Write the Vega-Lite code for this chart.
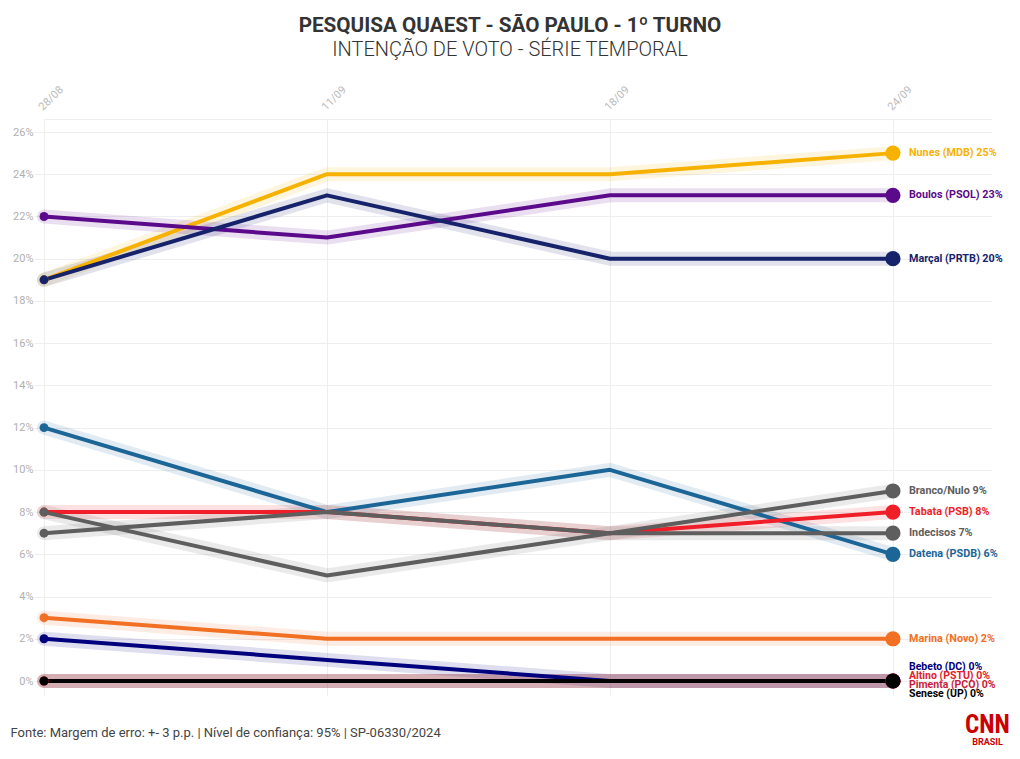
{
  "$schema": "https://vega.github.io/schema/vega-lite/v6.json",
  "autosize": {"type": "none"},
  "width": 948,
  "height": 576,
  "padding": {"left": 44, "top": 119, "right": 28, "bottom": 64},
  "background": "white",
  "title": {
    "text": "PESQUISA QUAEST - SÃO PAULO - 1º TURNO",
    "subtitle": "INTENÇÃO DE VOTO - SÉRIE TEMPORAL",
    "anchor": "middle",
    "frame": "group",
    "dx": -8,
    "offset": 23,
    "font": "Roboto",
    "fontSize": 20.7,
    "fontWeight": "bold",
    "color": "#333333",
    "subtitleFont": "Roboto",
    "subtitleFontSize": 20,
    "subtitleFontWeight": 300,
    "subtitleColor": "#333333",
    "subtitlePadding": 3
  },
  "config": {
    "view": {"stroke": null},
    "font": "Roboto"
  },
  "data": {
    "values": [
      {"date": "28/08", "name": "Nunes (MDB)", "value": 19},
      {"date": "11/09", "name": "Nunes (MDB)", "value": 24},
      {"date": "18/09", "name": "Nunes (MDB)", "value": 24},
      {"date": "24/09", "name": "Nunes (MDB)", "value": 25},
      {"date": "28/08", "name": "Boulos (PSOL)", "value": 22},
      {"date": "11/09", "name": "Boulos (PSOL)", "value": 21},
      {"date": "18/09", "name": "Boulos (PSOL)", "value": 23},
      {"date": "24/09", "name": "Boulos (PSOL)", "value": 23},
      {"date": "28/08", "name": "Marçal (PRTB)", "value": 19},
      {"date": "11/09", "name": "Marçal (PRTB)", "value": 23},
      {"date": "18/09", "name": "Marçal (PRTB)", "value": 20},
      {"date": "24/09", "name": "Marçal (PRTB)", "value": 20},
      {"date": "28/08", "name": "Datena (PSDB)", "value": 12},
      {"date": "11/09", "name": "Datena (PSDB)", "value": 8},
      {"date": "18/09", "name": "Datena (PSDB)", "value": 10},
      {"date": "24/09", "name": "Datena (PSDB)", "value": 6},
      {"date": "28/08", "name": "Tabata (PSB)", "value": 8},
      {"date": "11/09", "name": "Tabata (PSB)", "value": 8},
      {"date": "18/09", "name": "Tabata (PSB)", "value": 7},
      {"date": "24/09", "name": "Tabata (PSB)", "value": 8},
      {"date": "28/08", "name": "Branco/Nulo", "value": 7},
      {"date": "11/09", "name": "Branco/Nulo", "value": 8},
      {"date": "18/09", "name": "Branco/Nulo", "value": 7},
      {"date": "24/09", "name": "Branco/Nulo", "value": 9},
      {"date": "28/08", "name": "Indecisos", "value": 8},
      {"date": "11/09", "name": "Indecisos", "value": 5},
      {"date": "18/09", "name": "Indecisos", "value": 7},
      {"date": "24/09", "name": "Indecisos", "value": 7},
      {"date": "28/08", "name": "Marina (Novo)", "value": 3},
      {"date": "11/09", "name": "Marina (Novo)", "value": 2},
      {"date": "18/09", "name": "Marina (Novo)", "value": 2},
      {"date": "24/09", "name": "Marina (Novo)", "value": 2},
      {"date": "28/08", "name": "Bebeto (DC)", "value": 2},
      {"date": "11/09", "name": "Bebeto (DC)", "value": 1},
      {"date": "18/09", "name": "Bebeto (DC)", "value": 0},
      {"date": "24/09", "name": "Bebeto (DC)", "value": 0},
      {"date": "28/08", "name": "Altino (PSTU)", "value": 0},
      {"date": "11/09", "name": "Altino (PSTU)", "value": 0},
      {"date": "18/09", "name": "Altino (PSTU)", "value": 0},
      {"date": "24/09", "name": "Altino (PSTU)", "value": 0},
      {"date": "28/08", "name": "Pimenta (PCO)", "value": 0},
      {"date": "11/09", "name": "Pimenta (PCO)", "value": 0},
      {"date": "18/09", "name": "Pimenta (PCO)", "value": 0},
      {"date": "24/09", "name": "Pimenta (PCO)", "value": 0},
      {"date": "28/08", "name": "Senese (UP)", "value": 0},
      {"date": "11/09", "name": "Senese (UP)", "value": 0},
      {"date": "18/09", "name": "Senese (UP)", "value": 0},
      {"date": "24/09", "name": "Senese (UP)", "value": 0}
    ]
  },
  "transform": [
    {"calculate": "datum.name + ' ' + datum.value + '%'", "as": "label"}
  ],
  "encoding": {
    "x": {
      "field": "date",
      "type": "ordinal",
      "sort": ["28/08", "11/09", "18/09", "24/09"],
      "scale": {"type": "point", "padding": 0.175, "align": 0}
    },
    "y": {
      "field": "value",
      "type": "quantitative",
      "scale": {"domain": [-0.663, 26.616], "nice": false, "zero": false}
    },
    "color": {
      "field": "name",
      "type": "nominal",
      "legend": null,
      "scale": {
        "domain": ["Nunes (MDB)", "Boulos (PSOL)", "Marçal (PRTB)", "Datena (PSDB)", "Tabata (PSB)", "Branco/Nulo", "Indecisos", "Marina (Novo)", "Bebeto (DC)", "Altino (PSTU)", "Pimenta (PCO)", "Senese (UP)"],
        "range": ["#F7B200", "#5A0A8A", "#16226A", "#1C6697", "#F01E28", "#5E5E5E", "#5E5E5E", "#F17024", "#00007E", "#E3202C", "#C71E3C", "#000000"]
      }
    }
  },
  "resolve": {"axis": {"y": "independent"}},
  "layer": [
    {
      "mark": {"type": "line", "strokeWidth": 14, "opacity": 0.13, "strokeCap": "round", "strokeJoin": "round"},
      "encoding": {
        "x": {
          "field": "date", "type": "ordinal", "sort": ["28/08", "11/09", "18/09", "24/09"],
          "axis": {
            "orient": "top",
            "labelAngle": -45,
            "labelColor": "#bbbbbb",
            "labelFontSize": 11,
            "labelPadding": 7,
            "ticks": false,
            "domain": true,
            "domainColor": "#eeeeee",
            "grid": true,
            "gridColor": "#eeeeee",
            "title": "CNN",
            "titleFont": "Roboto Condensed, Roboto",
            "titleFontSize": 25,
            "titleFontWeight": "bold",
            "titleColor": "#CC0000",
            "titleX": 943,
            "titleY": 605,
            "titleAlign": "center",
            "titleBaseline": "middle",
            "titleAngle": 0
          }
        },
        "y": {
          "field": "value", "type": "quantitative",
          "axis": {
            "orient": "left",
            "values": [0, 2, 4, 6, 8, 10, 12, 14, 16, 18, 20, 22, 24, 26],
            "labelExpr": "datum.value + '%'",
            "labelColor": "#b0b0b0",
            "labelFontSize": 11,
            "labelPadding": 1,
            "tickSize": 10,
            "tickColor": "#eeeeee",
            "domain": false,
            "grid": true,
            "gridColor": "#eeeeee",
            "title": "Fonte: Margem de erro: +- 3 p.p. | Nível de confiança: 95% | SP-06330/2024",
            "titleFont": "Liberation Sans Narrow, Roboto",
            "titleFontSize": 13,
            "titleFontWeight": "normal",
            "titleColor": "#444444",
            "titleAngle": 0,
            "titleX": -34,
            "titleY": 613,
            "titleAlign": "left",
            "titleBaseline": "middle"
          }
        }
      }
    },
    {
      "mark": {"type": "line", "strokeWidth": 4, "strokeCap": "round", "strokeJoin": "round"},
      "encoding": {
        "y": {
          "field": "value", "type": "quantitative",
          "axis": {
            "orient": "right",
            "labels": false,
            "ticks": false,
            "domain": false,
            "grid": false,
            "title": "BRASIL",
            "titleFont": "Roboto",
            "titleFontSize": 9,
            "titleFontWeight": "bold",
            "titleColor": "#CC0000",
            "titleAngle": 0,
            "titleX": -5,
            "titleY": 622,
            "titleAlign": "center",
            "titleBaseline": "middle"
          }
        }
      }
    },
    {
      "transform": [{"filter": "datum.date == '28/08'"}],
      "mark": {"type": "circle", "size": 80, "opacity": 1},
      "encoding": {"y": {"field": "value", "type": "quantitative", "axis": null}}
    },
    {
      "transform": [{"filter": "datum.date == '24/09'"}],
      "mark": {"type": "circle", "size": 230, "opacity": 1},
      "encoding": {"y": {"field": "value", "type": "quantitative", "axis": null}}
    },
    {
      "transform": [{"filter": "datum.date == '24/09' && datum.value > 0"}],
      "mark": {"type": "text", "align": "left", "baseline": "middle", "dx": 16, "font": "Roboto", "fontSize": 10.8, "fontWeight": "bold"},
      "encoding": {
        "y": {"field": "value", "type": "quantitative", "axis": null},
        "text": {"field": "label"}
      }
    },
    {
      "transform": [{"filter": "datum.date == '24/09' && datum.name == 'Bebeto (DC)'"}],
      "mark": {"type": "text", "align": "left", "baseline": "middle", "dx": 16, "dy": -14, "font": "Roboto", "fontSize": 10.5, "fontWeight": "bold"},
      "encoding": {
        "y": {"field": "value", "type": "quantitative", "axis": null},
        "text": {"field": "label"}
      }
    },
    {
      "transform": [{"filter": "datum.date == '24/09' && datum.name == 'Altino (PSTU)'"}],
      "mark": {"type": "text", "align": "left", "baseline": "middle", "dx": 16, "dy": -5, "font": "Roboto", "fontSize": 10.5, "fontWeight": "bold"},
      "encoding": {
        "y": {"field": "value", "type": "quantitative", "axis": null},
        "text": {"field": "label"}
      }
    },
    {
      "transform": [{"filter": "datum.date == '24/09' && datum.name == 'Pimenta (PCO)'"}],
      "mark": {"type": "text", "align": "left", "baseline": "middle", "dx": 16, "dy": 4, "font": "Roboto", "fontSize": 10.5, "fontWeight": "bold"},
      "encoding": {
        "y": {"field": "value", "type": "quantitative", "axis": null},
        "text": {"field": "label"}
      }
    },
    {
      "transform": [{"filter": "datum.date == '24/09' && datum.name == 'Senese (UP)'"}],
      "mark": {"type": "text", "align": "left", "baseline": "middle", "dx": 16, "dy": 13, "font": "Roboto", "fontSize": 10.5, "fontWeight": "bold"},
      "encoding": {
        "y": {"field": "value", "type": "quantitative", "axis": null},
        "text": {"field": "label"}
      }
    }
  ]
}
